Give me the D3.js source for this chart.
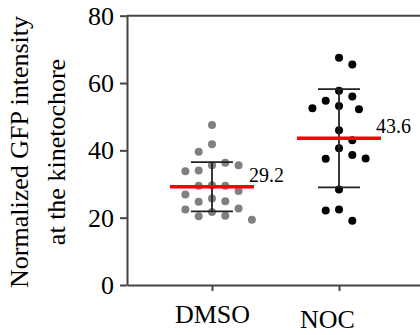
<!DOCTYPE html>
<html>
<head>
<meta charset="utf-8">
<script src="https://cdn.jsdelivr.net/npm/d3@7"></script>
<style>
  body { margin: 0; background: #fff; }
  text { font-family: "Liberation Serif", "Times New Roman", serif; fill: #000; }
</style>
</head>
<body>
<div id="chart"></div>
<script>
const categories = ["DMSO", "NOC"];
const dmsoValues = [47.5, 41.8, 39.6, 35.6, 36.3, 34.0, 33.8, 35.6, 29.6, 29.5, 29.5,
  27.9, 26.9, 25.7, 24.7, 24.9, 22.4, 22.7, 21.7, 20.6, 20.4, 19.4];
const nocValues = [67.5, 65.5, 57.7, 56.0, 54.7, 53.2, 52.2, 52.5, 46.0, 43.0, 40.6,
  38.6, 37.5, 37.6, 28.4, 22.4, 22.1, 19.1];
const meanValues = [29.2, 43.6];
const sdValues = [7.3, 14.6];
const meanLabels = ["29.2", "43.6"];
const yTicks = [0, 20, 40, 60, 80];

const width = 420, height = 335;
const plotLeft = 127, plotTop = 15.7, plotBottom = 285, plotRight = 424;

const svg = d3.select("#chart").append("svg")
  .attr("width", width)
  .attr("height", height);

const y = d3.scaleLinear().domain([0, 80]).range([plotBottom, plotTop]);
const x = d3.scalePoint().domain(categories).range([plotLeft, plotRight]).padding(0.669);

// frame top line
svg.append("line")
  .attr("x1", plotLeft).attr("x2", plotRight)
  .attr("y1", plotTop).attr("y2", plotTop)
  .attr("stroke", "#444").attr("stroke-width", 2);

const yAxis = svg.append("g")
  .attr("transform", `translate(${plotLeft},0)`)
  .call(d3.axisLeft(y).tickValues(yTicks).tickSize(7).tickSizeOuter(0).tickPadding(6));
yAxis.selectAll("path, line").attr("stroke", "#444").attr("stroke-width", 2);
yAxis.selectAll("text").style("font-size", "26px");
yAxis.attr("font-family", null);

const xAxis = svg.append("g")
  .attr("transform", `translate(0,${plotBottom})`)
  .call(d3.axisBottom(x).tickSize(6).tickSizeOuter(0).tickPadding(14));
xAxis.selectAll("path, line").attr("stroke", "#444").attr("stroke-width", 2);
xAxis.attr("font-family", null);
xAxis.selectAll("text").style("font-size", "26px")
  .attr("transform", d => d === "NOC" ? "translate(-12,5)" : null);

// axis title
const title = svg.append("text")
  .attr("transform", "translate(0,152) rotate(-90)")
  .attr("text-anchor", "middle")
  .style("font-size", "26px");
title.append("tspan").attr("x", 0).attr("y", 28).text("Normalized GFP intensity");
title.append("tspan").attr("x", 0).attr("y", 65).text("at the kinetochore");

// simple greedy beeswarm
const slot = 13.3, minDist = 13;
function swarm(values, cx) {
  const placed = [];
  values.forEach((v, i) => {
    const cy = y(v);
    let off = 0;
    for (let k = 0; k < 40; k++) {
      const cands = k === 0 ? [0] : (i % 2 ? [k * slot / 2, -k * slot / 2] : [-k * slot / 2, k * slot / 2]);
      const ok = cands.find(o => placed.every(p => Math.hypot(p.x - (cx + o), p.y - cy) >= minDist));
      if (ok !== undefined) { off = ok; break; }
    }
    placed.push({ x: cx + off, y: cy, v });
  });
  return placed;
}

const groups = [
  { name: "DMSO", values: dmsoValues, color: "#808080" },
  { name: "NOC", values: nocValues, color: "#000000" }
];

groups.forEach((g, i) => {
  const cx = x(g.name);
  const pts = swarm(g.values, cx);

  svg.append("g")
    .selectAll("circle")
    .data(pts)
    .join("circle")
    .attr("cx", d => d.x)
    .attr("cy", d => d.y)
    .attr("r", 4)
    .attr("fill", g.color);

  const m = meanValues[i], sd = sdValues[i];
  const eb = svg.append("g").attr("stroke", "#222").attr("stroke-width", 1.8);
  eb.append("line").attr("x1", cx).attr("x2", cx).attr("y1", y(m + sd)).attr("y2", y(m - sd));
  [m + sd, m - sd].forEach(v => {
    eb.append("line").attr("x1", cx - 21).attr("x2", cx + 21).attr("y1", y(v)).attr("y2", y(v));
  });

  svg.append("line")
    .attr("x1", cx - 42).attr("x2", cx + 42)
    .attr("y1", y(m)).attr("y2", y(m))
    .attr("stroke", "#ff0000").attr("stroke-width", 3.5);

  svg.append("text")
    .attr("x", cx + 37)
    .attr("y", y(m) - 5)
    .style("font-size", "20px")
    .text(meanLabels[i]);
});
</script>
</body>
</html>
